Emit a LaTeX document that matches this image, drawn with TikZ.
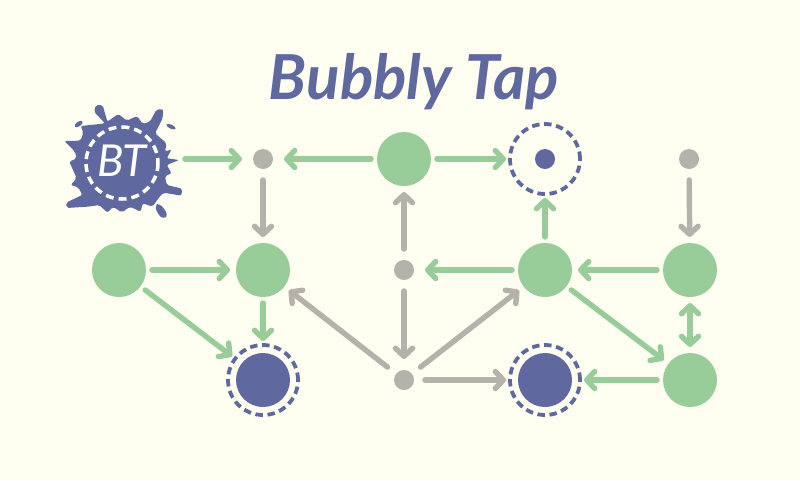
\documentclass[tikz,border=0pt]{standalone}
\usepackage{fontspec}
\usetikzlibrary{arrows.meta}
\setmainfont{Lato}
\definecolor{bgc}{HTML}{FEFFF0}
\definecolor{grn}{HTML}{98CC98}
\definecolor{nvy}{HTML}{60699F}
\definecolor{gry}{HTML}{B4B2AA}
\tikzset{
  x=1pt,y=-1pt,
  dot/.style={circle,inner sep=0pt,outer sep=0pt},
  bigg/.style={dot,fill=grn,minimum size=54pt,outer sep=6pt},
  bign/.style={dot,fill=nvy,minimum size=54pt},
  smallg/.style={dot,fill=gry,minimum size=20pt,outer sep=11pt},
  smalln/.style={dot,fill=nvy,minimum size=20pt},
  ring/.style={dot,draw=nvy,line width=3.8pt,minimum size=70pt,outer sep=4pt,dash pattern=on 7.5pt off 4.6pt},
  tip/.tip={Straight Barb[round,length=8pt,width=17pt,line width=5.4pt]},
  conn/.style={line width=5.4pt,line cap=round,-tip},
  gconn/.style={conn,draw=grn},
  yconn/.style={conn,draw=gry},
  dbl/.style={line width=5.4pt,line cap=round,draw=grn,tip-tip},
}
\begin{document}
\begin{tikzpicture}
\useasboundingbox (0,0) rectangle (800,480);
\fill[bgc] (0,0) rectangle (800,480);
% title
\node[text=nvy,inner sep=0pt] (title) at (414,82)
  {\fontsize{62pt}{62pt}\selectfont\bfseries\itshape Bubbly Tap};
% splat logo
\begin{scope}[shift={(50,90)},x=0.3333pt,y=-0.3333pt]
  \fill[nvy,rounded corners=2pt]
    (165,100) -- (132,65) -- (138,45) -- (158,45) -- (172,95) -- (205,72) -- (230,92) -- (262,78) -- (278,102)
    -- (300,95) -- (320,58) -- (340,58) -- (338,85) -- (315,130) -- (350,160) -- (345,185) -- (365,178) -- (350,205)
    -- (388,210) -- (350,225) -- (365,250) -- (345,258) -- (350,285) -- (397,296) -- (394,317) -- (340,308)
    -- (325,325) -- (308,350) -- (278,340) -- (272,365) -- (240,350) -- (215,368) -- (190,350) -- (172,368)
    -- (148,345) -- (115,350) -- (50,354) -- (48,338) -- (97,315) -- (85,292) -- (62,285) -- (80,265)
    -- (58,215) -- (80,205) -- (75,185) -- (43,153) -- (92,152) -- (100,128) -- (92,108) -- (140,103) -- cycle;
  \fill[nvy,rotate around={35:(86,102)}] (86,102) ellipse [x radius=14,y radius=7];
  \fill[nvy,rotate around={-25:(363,110)}] (363,110) ellipse [x radius=15,y radius=6];
  \fill[nvy,rounded corners=4pt] (314,345) -- (330,340) -- (355,375) -- (340,388) -- (323,372) -- cycle;
\end{scope}
\node[dot,minimum size=120pt] (splat) at (125,159) {};
\draw[white,line width=3.5pt,dash pattern=on 8pt off 5pt] (122,163) circle [radius=36];
\node[text=white,inner sep=0pt] (bt) at (122,161)
  {\fontsize{44pt}{44pt}\selectfont\itshape BT};
% rings and inner discs
\node[ring] (c) at (545,159) {};
\node[smalln] (c0) at (545,159) {};
\node[ring] (j) at (263,380) {};
\node[bign] (j0) at (263,380) {};
\node[ring] (l) at (545,380) {};
\node[bign] (l0) at (545,380) {};
% green discs
\node[bigg] (b) at (404,159) {};
\node[bigg] (e) at (119,270) {};
\node[bigg] (f) at (263,270) {};
\node[bigg] (h) at (545,270) {};
\node[bigg] (i) at (690,270) {};
\node[bigg] (m) at (690,380) {};
% grey dots
\node[smallg] (a) at (263,159) {};
\node[smallg] (d) at (689,159) {};
\node[smallg] (g) at (404,270) {};
\node[smallg] (k) at (404,380) {};
% green connectors
\draw[gconn] (splat) -- (a);
\draw[gconn] (b) -- (a);
\draw[gconn] (b) -- (c);
\draw[gconn] (e) -- (f);
\draw[gconn] (f) -- (j);
\draw[gconn] (e) -- (j);
\draw[gconn] (h) -- (g);
\draw[gconn] (h) -- (c);
\draw[gconn] (i) -- (h);
\draw[gconn] (h) -- (m);
\draw[dbl] (i) -- (m);
\draw[gconn] (m) -- (l);
% grey connectors
\draw[yconn] (a) -- (f);
\draw[yconn] (g) -- (b);
\draw[yconn] (g) -- (k);
\draw[yconn] (k) -- (f);
\draw[yconn] (k) -- (h);
\draw[yconn] (k) -- (l);
\draw[yconn] (d) -- (i);
\end{tikzpicture}
\end{document}
